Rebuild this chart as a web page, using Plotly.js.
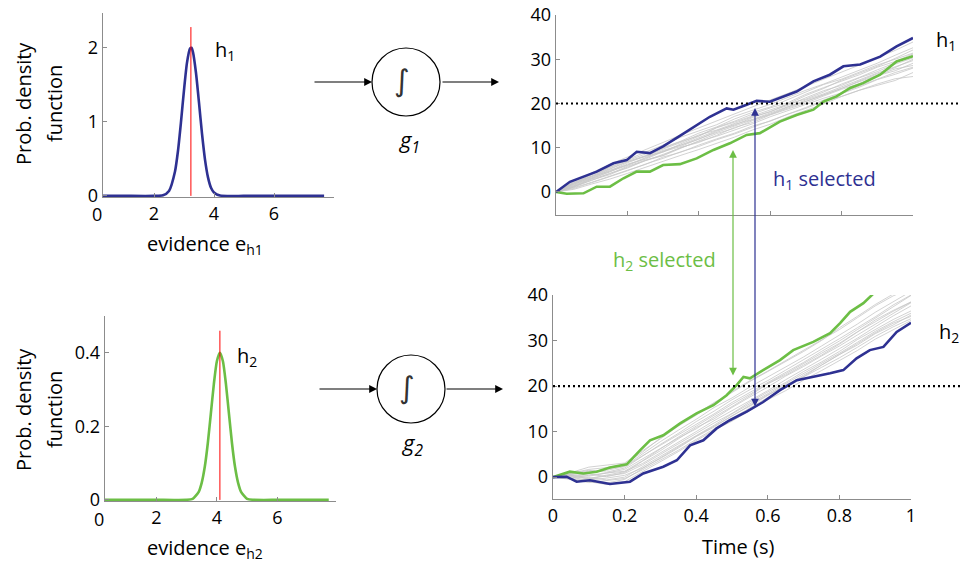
<!DOCTYPE html>
<html><head><meta charset="utf-8">
<script src="https://cdn.plot.ly/plotly-3.0.1.min.js"></script>
<style>html,body{margin:0;padding:0;background:#fff}#chart{width:961px;height:567px}</style>
</head><body><div id="chart"></div>
<script>
// ---------- data ----------
const pdf1X = [0.3, 1, 2, 2.3, 2.5, 2.7, 2.8, 2.9, 3.0, 3.1, 3.2, 3.25, 3.3, 3.4, 3.5, 3.6, 3.7, 3.8, 3.9, 4.0, 4.2, 5, 6, 7, 7.67];
const pdf1Y = [0, 0, 0, 0.008, 0.067, 0.33, 0.61, 1.0, 1.43, 1.80, 1.99, 2.0, 1.94, 1.66, 1.26, 0.84, 0.49, 0.25, 0.11, 0.046, 0.005, 0, 0, 0, 0];
const pdf2X = [0.3, 1, 2, 3.0, 3.2, 3.4, 3.5, 3.6, 3.7, 3.8, 3.9, 4.0, 4.1, 4.2, 4.3, 4.4, 4.5, 4.6, 4.7, 4.8, 5.0, 5.2, 6, 7, 7.7];
const pdf2Y = [0, 0, 0, 0.0003, 0.003, 0.022, 0.047, 0.090, 0.154, 0.234, 0.315, 0.377, 0.4, 0.377, 0.315, 0.234, 0.154, 0.090, 0.047, 0.022, 0.003, 0.0003, 0, 0, 0];
const mean1 = 3.23, mean1Top = 2.28;
const mean2 = 4.1,  mean2Top = 0.46;
const threshold = 20;

const timeGrid = [0,0.05,0.1,0.15,0.2,0.25,0.3,0.35,0.4,0.45,0.5,0.55,0.6,0.65,0.7,0.75,0.8,0.85,0.9,0.95,1];

// h1 integrator (top right)
const h1Gray = [
 [0,1.8,3.2,4.9,6.1,7.8,9.4,10.6,12.3,13.9,15.1,16.8,18.2,19.6,21.3,22.9,24.1,25.8,27.2,28.9,30.3],
 [0,1.2,2.9,4.1,5.8,7.2,8.3,10.1,11.2,12.8,14.6,15.7,17.4,18.8,20.1,21.7,23.2,24.5,26.3,27.4,29.1],
 [0,2.1,3.9,5.6,7.4,9.0,10.6,12.4,13.8,15.2,17.1,18.5,19.8,21.4,23.0,24.4,26.0,27.6,29.1,30.9,32.6],
 [0,1.0,2.2,3.6,4.9,6.2,7.9,9.0,10.6,12.0,13.3,14.9,16.0,17.6,18.9,20.5,21.6,23.0,24.1,25.2,27.0],
 [0,1.9,3.5,4.7,6.6,8.1,9.0,10.9,12.6,14.5,15.8,17.2,18.6,19.9,21.8,23.4,25.3,26.9,28.4,30.2,32.1],
 [0,0.6,1.8,2.9,4.2,5.6,7.0,8.3,9.6,11.0,12.4,14.0,15.3,17.0,18.4,19.9,21.6,23.0,24.4,25.6,26.1],
 [0,2.4,4.3,6.2,7.9,9.5,11.2,12.9,14.5,16.0,17.6,19.3,20.8,22.3,23.9,25.4,27.0,28.7,30.4,32.0,33.9],
 [0,1.4,3.0,4.5,6.3,7.4,9.1,10.3,12.0,13.5,14.9,16.3,17.6,19.2,20.8,22.2,23.8,25.4,26.9,28.3,29.7],
 [0,1.7,3.3,5.1,6.8,8.0,9.7,11.2,12.9,14.0,15.5,17.0,18.1,19.9,21.0,22.6,24.4,25.9,27.6,29.2,31.0],
 [0,1.1,2.7,3.9,5.6,7.0,8.5,10.0,11.4,12.6,14.0,15.4,17.0,18.4,19.8,21.2,22.4,24.0,25.5,27.0,28.2],
 [0,2.0,3.6,5.5,7.1,8.6,10.0,11.5,13.3,14.7,16.5,18.0,19.2,20.9,22.7,24.3,25.5,27.1,28.7,30.0,31.4],
 [0,1.6,3.1,4.6,6.0,7.6,9.2,10.6,11.9,13.7,15.3,16.4,17.9,19.3,20.5,22.0,23.5,25.0,26.4,27.8,28.6],
 [0,1.3,2.6,4.2,5.4,7.1,8.2,9.9,11.6,13.2,14.4,16.1,17.5,19.0,20.4,21.9,23.4,25.1,26.7,28.1,30.0],
 [0,2.2,3.6,5.2,6.9,8.2,9.9,11.4,12.7,14.6,16.0,17.6,19.0,20.2,22.1,23.6,25.0,26.5,28.2,29.5,31.2],
 [0,0.8,2.1,3.4,4.8,6.3,7.6,9.1,10.3,11.8,13.1,14.6,16.1,17.7,19.1,20.8,22.3,23.7,25.4,26.6,28.0]
];
const h1BlueT = [0,0.039,0.114,0.161,0.198,0.226,0.263,0.30,0.347,0.394,0.431,0.478,0.497,0.534,0.562,0.599,0.637,0.674,0.721,0.767,0.805,0.852,0.908,0.954,1.0];
const h1BlueV = [0,2.3,4.6,6.5,7.2,9.1,8.8,10.3,12.7,15.2,17.0,18.9,18.6,19.7,20.6,20.4,21.6,22.7,25.0,26.5,28.4,28.8,30.6,32.9,34.8];
const h1GreenT = [0,0.03,0.077,0.114,0.151,0.189,0.226,0.263,0.30,0.347,0.394,0.441,0.487,0.534,0.571,0.627,0.674,0.721,0.749,0.786,0.824,0.86,0.908,0.954,1.0];
const h1GreenV = [0,-0.4,-0.3,1.2,1.2,3.1,4.6,4.6,6.1,6.3,7.6,9.5,11.0,12.9,13.3,15.9,17.4,18.6,20.4,21.6,23.5,24.6,26.5,29.5,30.7];

// h2 integrator (bottom right)
const h2Gray = [
 [0,0.5,0.2,0.9,1.3,3.6,6.2,8.8,11.2,13.6,16.0,18.2,20.6,22.7,25.0,27.2,29.4,31.9,34.1,36.4,38.4],
 [0,-0.3,-0.6,-0.2,0.4,2.0,4.1,6.4,8.9,11.0,13.5,15.6,18.0,20.3,22.1,24.6,26.9,29.0,31.5,33.4,35.6],
 [0,0.8,1.5,1.1,2.0,4.6,7.2,9.6,12.2,14.5,17.0,19.2,21.2,23.5,25.8,28.0,30.4,32.8,35.2,37.8,40.0],
 [0,0.2,-0.4,0.3,0.8,2.7,5.0,7.3,9.5,11.9,14.0,16.5,18.7,20.8,23.2,25.3,27.6,30.2,32.4,34.6,36.5],
 [0,1.0,2.2,2.6,3.1,5.8,8.4,11.2,13.6,16.2,18.8,21.2,23.3,25.6,27.9,30.1,32.4,35.0,37.6,39.8,41.5],
 [0,-0.5,-1.2,-0.8,-0.3,1.6,3.8,5.9,8.3,10.6,12.9,15.2,17.5,19.6,22.0,24.1,26.2,28.5,30.9,33.0,34.8],
 [0,0.6,1.0,1.8,2.4,5.2,7.8,10.3,12.7,15.3,17.4,19.8,22.0,24.1,26.4,28.8,31.2,33.6,36.2,38.6,40.8],
 [0,0.3,0.7,0.1,1.0,3.5,5.8,8.4,10.9,12.8,15.3,17.6,19.8,22.2,24.3,26.6,28.8,31.2,33.6,35.9,38.3],
 [0,-0.2,0.4,0.9,1.7,4.0,6.2,8.6,10.6,13.2,15.5,17.9,20.5,22.4,24.6,26.8,29.2,31.9,34.5,36.6,38.5],
 [0,0.4,-0.1,-0.6,0.0,2.3,4.6,6.9,9.2,11.4,13.9,16.1,18.3,20.6,22.7,25.0,27.2,29.6,32.0,34.1,36.0],
 [0,0.9,1.7,2.1,2.8,5.5,8.6,11.3,13.8,16.4,18.6,21.0,23.2,25.4,27.6,30.0,32.8,35.3,37.9,40.2,42.0],
 [0,0.1,-0.9,-1.3,-0.5,1.9,4.3,6.6,9.0,11.2,13.4,15.8,18.1,20.0,22.4,24.6,26.9,29.3,31.7,33.8,35.3],
 [0,0.3,-0.3,0.5,1.2,3.0,5.3,7.7,10.0,12.4,14.6,16.9,19.0,21.4,23.6,25.9,28.2,30.5,33.0,35.4,37.6],
 [0,-0.4,-1.0,-1.6,-1.0,1.2,3.4,5.6,8.0,10.3,12.3,14.6,17.0,19.0,21.3,23.4,25.6,27.8,30.3,32.3,34.4],
 [0,0.7,1.3,1.5,2.3,4.7,7.0,9.3,11.5,13.9,16.4,18.6,20.9,23.0,25.2,27.6,29.9,32.4,34.9,37.4,39.9]
];
const h2GreenT = [0,0.047,0.085,0.122,0.159,0.206,0.243,0.271,0.308,0.355,0.401,0.448,0.485,0.513,0.532,0.55,0.587,0.634,0.671,0.727,0.774,0.802,0.83,0.867,0.895];
const h2GreenV = [0,1.2,0.8,1.2,2.1,2.8,5.9,8.1,9.2,11.8,14.0,15.8,18.0,20.2,22.0,21.7,23.5,25.7,27.9,29.7,31.6,33.8,36.3,38.2,40.3];
const h2BlueT = [0,0.038,0.066,0.103,0.159,0.215,0.252,0.308,0.346,0.383,0.42,0.457,0.494,0.541,0.587,0.634,0.681,0.727,0.774,0.811,0.848,0.885,0.923,0.96,1.0];
const h2BlueV = [0,0.1,-1.0,-0.7,-1.5,-1.0,0.8,2.3,3.7,7.0,8.1,10.7,12.5,14.4,16.5,19.1,21.3,22.0,22.8,23.5,26.1,27.9,28.6,31.9,33.9];

// ---------- style ----------
const W = 961, H = 567;
const px = v => v / W, py = v => 1 - v / H;
const BLUE = '#2E3192', GREEN = '#6CBE45', GRAY = '#C6C6C6', AXIS = '#8C8C8C';
const FONT = 'Open Sans, Noto Sans, sans-serif';

const traces = [];
traces.push({x: pdf1X, y: pdf1Y, xaxis: 'x', yaxis: 'y', mode: 'lines', line: {color: BLUE, width: 2.6, shape: 'spline', smoothing: 0.6}});
traces.push({x: [mean1, mean1], y: [0, mean1Top], xaxis: 'x', yaxis: 'y', mode: 'lines', line: {color: '#FF0000', width: 1}});
traces.push({x: pdf2X, y: pdf2Y, xaxis: 'x2', yaxis: 'y2', mode: 'lines', line: {color: GREEN, width: 2.6, shape: 'spline', smoothing: 0.6}});
traces.push({x: [mean2, mean2], y: [0, mean2Top], xaxis: 'x2', yaxis: 'y2', mode: 'lines', line: {color: '#FF0000', width: 1}});
h1Gray.forEach(s => traces.push({x: timeGrid, y: s, xaxis: 'x3', yaxis: 'y3', mode: 'lines', line: {color: GRAY, width: 0.8}}));
traces.push({x: h1GreenT, y: h1GreenV, xaxis: 'x3', yaxis: 'y3', mode: 'lines', line: {color: GREEN, width: 2.6}});
traces.push({x: h1BlueT, y: h1BlueV, xaxis: 'x3', yaxis: 'y3', mode: 'lines', line: {color: BLUE, width: 2.6}});
h2Gray.forEach(s => traces.push({x: timeGrid, y: s, xaxis: 'x4', yaxis: 'y4', mode: 'lines', line: {color: GRAY, width: 0.8}}));
traces.push({x: h2GreenT, y: h2GreenV, xaxis: 'x4', yaxis: 'y4', mode: 'lines', line: {color: GREEN, width: 2.6}});
traces.push({x: h2BlueT, y: h2BlueV, xaxis: 'x4', yaxis: 'y4', mode: 'lines', line: {color: BLUE, width: 2.6}});

function ax(extra) {
  return Object.assign({
    showgrid: false, zeroline: false, showline: true, linecolor: AXIS, linewidth: 1.3,
    ticks: 'inside', ticklen: 4, tickwidth: 1, tickcolor: AXIS,
    tickfont: {family: FONT, size: 18, color: '#000'}, fixedrange: true
  }, extra);
}

const layout = {
  width: W, height: H, margin: {l: 0, r: 0, t: 0, b: 0},
  paper_bgcolor: '#fff', plot_bgcolor: 'rgba(0,0,0,0)', showlegend: false,
  font: {family: FONT, size: 18, color: '#000'},
  xaxis:  ax({domain: [px(103), px(334)], range: [0.3, 8.0], tickvals: [2, 4, 6], anchor: 'y'}),
  yaxis:  ax({domain: [py(197), py(13)], range: [-0.015, 2.47], tickvals: [0, 1, 2], anchor: 'x'}),
  xaxis2: ax({domain: [px(105), px(336)], range: [0.3, 7.94], tickvals: [2, 4, 6], anchor: 'y2'}),
  yaxis2: ax({domain: [py(501), py(316)], range: [-0.003, 0.5], tickvals: [0, 0.2, 0.4], anchor: 'x2'}),
  xaxis3: ax({domain: [px(556), px(913)], range: [0, 1], tickvals: [0, 0.2, 0.4, 0.6, 0.8, 1], showticklabels: false, anchor: 'y3'}),
  yaxis3: ax({domain: [py(215), py(15)], range: [-5.2, 40], tickvals: [0, 10, 20, 30, 40], anchor: 'x3'}),
  xaxis4: ax({domain: [px(553), px(911)], range: [0, 1], tickvals: [0, 0.2, 0.4, 0.6, 0.8, 1], ticktext: ['0', '0.2', '0.4', '0.6', '0.8', '1'], anchor: 'y4'}),
  yaxis4: ax({domain: [py(499), py(295)], range: [-4.8, 40], tickvals: [0, 10, 20, 30, 40], anchor: 'x4'}),
  shapes: [
    {type: 'line', xref: 'paper', yref: 'y3', x0: px(556), x1: px(960), y0: threshold, y1: threshold, line: {color: '#000', width: 2.2, dash: '2px,3px'}},
    {type: 'line', xref: 'paper', yref: 'y4', x0: px(553), x1: px(960), y0: threshold, y1: threshold, line: {color: '#000', width: 2.2, dash: '2px,3px'}},
    {type: 'circle', xref: 'paper', yref: 'paper', x0: px(372), x1: px(440), y0: py(116), y1: py(48), line: {color: '#000', width: 1.2}},
    {type: 'circle', xref: 'paper', yref: 'paper', x0: px(377), x1: px(445), y0: py(423), y1: py(355), line: {color: '#000', width: 1.2}}
  ],
  annotations: []
};

const A = layout.annotations;
function txt(x, y, text, opts) {
  A.push(Object.assign({xref: 'paper', yref: 'paper', x: px(x), y: py(y), text: text, showarrow: false,
    xanchor: 'center', yanchor: 'middle', font: {family: FONT, size: 20, color: '#000'}}, opts || {}));
}
function arrow(x, y, dx, dy, color, both) {
  A.push({xref: 'paper', yref: 'paper', x: px(x), y: py(y), ax: dx, ay: dy, axref: 'pixel', ayref: 'pixel',
    text: '', showarrow: true, arrowhead: 2, arrowsize: 1.3, arrowwidth: 1.2, arrowcolor: color,
    arrowside: both ? 'end+start' : 'end', standoff: 0, startstandoff: 0});
}
// y titles
txt(23, 104, 'Prob. density', {textangle: -90});
txt(54, 104, 'function', {textangle: -90});
txt(23, 410, 'Prob. density', {textangle: -90});
txt(54, 410, 'function', {textangle: -90});
// x titles
txt(205, 244, 'evidence e<sub>h1</sub>');
txt(205, 548, 'evidence e<sub>h2</sub>');
txt(738, 546, 'Time (s)');
// x "0" labels of left panels
txt(97, 214, '0', {font: {family: FONT, size: 18, color: '#000'}});
txt(99, 519, '0', {font: {family: FONT, size: 18, color: '#000'}});
// h labels
txt(225, 50, 'h<sub>1</sub>');
txt(247, 356, 'h<sub>2</sub>');
txt(946, 41, 'h<sub>1</sub>');
txt(949, 332, 'h<sub>2</sub>');
// integrator labels
txt(409, 141, '<i>g<sub>1</sub></i>', {font: {family: FONT, size: 22, color: '#000'}});
txt(412, 444, '<i>g<sub>2</sub></i>', {font: {family: FONT, size: 22, color: '#000'}});
txt(402, 80, '∫', {font: {family: 'DejaVu Sans', size: 30, color: '#333'}});
txt(407, 387, '∫', {font: {family: 'DejaVu Sans', size: 30, color: '#333'}});
// selection labels
txt(824, 179, 'h<sub>1</sub> selected', {font: {family: FONT, size: 20, color: BLUE}});
txt(664, 260, 'h<sub>2</sub> selected', {font: {family: FONT, size: 20, color: GREEN}});
// arrows
arrow(372, 82, -59, 0, '#000');
arrow(499, 82, -58, 0, '#000');
arrow(377, 389, -59, 0, '#000');
arrow(503, 389, -58, 0, '#000');
arrow(733, 150, 0, 227, GREEN, true);
arrow(755, 108, 0, 300, BLUE, true);

Plotly.newPlot('chart', traces, layout, {staticPlot: true, displayModeBar: false});
</script></body></html>
